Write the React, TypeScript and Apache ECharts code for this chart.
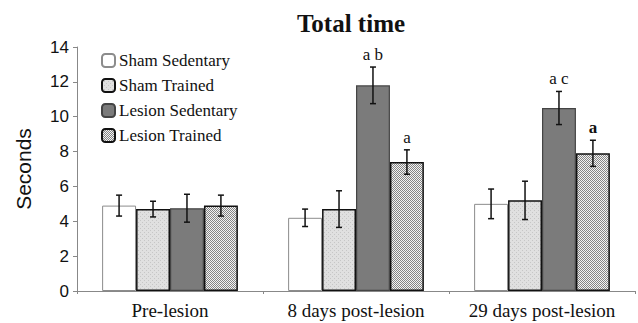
import React, { useEffect, useRef } from "react";
import * as echarts from "echarts";

const categories = ["Pre-lesion", "8 days post-lesion", "29 days post-lesion"];
const seriesNames = ["Sham Sedentary", "Sham Trained", "Lesion Sedentary", "Lesion Trained"];
const shamSedentary = [4.9, 4.2, 5.0];
const shamSedentaryErr = [0.6, 0.5, 0.85];
const shamTrained = [4.7, 4.7, 5.2];
const shamTrainedErr = [0.45, 1.05, 1.1];
const lesionSedentary = [4.75, 11.8, 10.5];
const lesionSedentaryErr = [0.8, 1.05, 0.95];
const lesionTrained = [4.9, 7.4, 7.9];
const lesionTrainedErr = [0.6, 0.7, 0.75];
const lesionSedentarySig = ["", "a b", "a c"];
const lesionTrainedSig = ["", "a", "a"];
const yTicks = [0, 2, 4, 6, 8, 10, 12, 14];

function makePattern(kind: string): string {
  const c = document.createElement("canvas");
  const s = 4;
  c.width = s;
  c.height = s;
  const ctx = c.getContext("2d")!;
  if (kind === "dots") {
    ctx.fillStyle = "#e0e0e0";
    ctx.fillRect(0, 0, s, s);
    ctx.fillStyle = "#c6c6c6";
    ctx.fillRect(0, 0, 1, 1);
    ctx.fillRect(2, 2, 1, 1);
  } else {
    ctx.fillStyle = "#f4f4f4";
    ctx.fillRect(0, 0, s, s);
    ctx.fillStyle = "#858585";
    ctx.fillRect(0, 0, 1, 1);
    ctx.fillRect(2, 0, 1, 1);
    ctx.fillRect(1, 1, 1, 1);
    ctx.fillRect(3, 1, 1, 1);
    ctx.fillRect(0, 2, 1, 1);
    ctx.fillRect(2, 2, 1, 1);
    ctx.fillRect(1, 3, 1, 1);
    ctx.fillRect(3, 3, 1, 1);
  }
  return c.toDataURL();
}

export default function App() {
  const ref = useRef<HTMLDivElement>(null);
  useEffect(() => {
    if (!ref.current) return;
    const chart = echarts.init(ref.current, undefined, { renderer: "svg" });
    const dots = makePattern("dots");
    const checks = makePattern("checks");
    const means = [shamSedentary, shamTrained, lesionSedentary, lesionTrained];
    const errs = [shamSedentaryErr, shamTrainedErr, lesionSedentaryErr, lesionTrainedErr];
    const sigs = [["", "", ""], ["", "", ""], lesionSedentarySig, lesionTrainedSig];
    const styles: any[] = [
      { color: "#ffffff", borderColor: "#8c8c8c", borderWidth: 1 },
      { color: { image: dots, repeat: "repeat" }, borderColor: "#111", borderWidth: 1.5 },
      { color: "#7b7b7b", borderColor: "#444", borderWidth: 1.2 },
      { color: { image: checks, repeat: "repeat" }, borderColor: "#111", borderWidth: 1.5 },
    ];
    const groupFrac = 0.73;
    const errData: any[] = [];
    for (let s = 0; s < 4; s++) {
      for (let c = 0; c < 3; c++) {
        errData.push([c, s, means[s][c] - errs[s][c], means[s][c] + errs[s][c], sigs[s][c]]);
      }
    }
    const serif = "Liberation Serif";
    const sans = "Liberation Sans";
    chart.setOption({
      animation: false,
      title: {
        text: "Total time",
        left: 346,
        top: 6,
        textAlign: "center",
        textStyle: { fontFamily: serif, fontWeight: "bold", fontSize: 25, color: "#111" },
      },
      legend: {
        orient: "vertical",
        left: 96,
        top: 47,
        itemWidth: 13,
        itemHeight: 13,
        itemGap: 8,
        data: seriesNames,
        textStyle: { fontFamily: serif, fontSize: 17, color: "#111", padding: [0, 0, 0, -1] },
      },
      grid: { left: 77, right: 3, top: 47, bottom: 32 },
      xAxis: {
        type: "category",
        data: categories,
        axisLine: { lineStyle: { color: "#888", width: 1 } },
        axisTick: { show: true, length: 3, lineStyle: { color: "#888" } },
        axisLabel: { fontFamily: serif, fontSize: 19, color: "#111", margin: 10, interval: 0, hideOverlap: false },
      },
      yAxis: {
        type: "value",
        min: 0,
        max: 14,
        interval: 2,
        name: "Seconds",
        nameLocation: "middle",
        nameGap: 43,
        nameRotate: 90,
        nameTextStyle: { fontFamily: sans, fontSize: 21, color: "#111" },
        splitLine: { show: false },
        axisLine: { show: true, lineStyle: { color: "#888", width: 1 } },
        axisTick: { show: true, length: 4, lineStyle: { color: "#888" } },
        axisLabel: {
          fontFamily: sans,
          fontSize: 17,
          color: "#111",
          margin: 8,
          formatter: (v: number) => (yTicks.includes(v) ? String(v) : ""),
        },
      },
      series: [
        ...seriesNames.map((name, i) => ({
          name,
          type: "bar",
          data: means[i],
          barGap: "0%",
          barCategoryGap: "27%",
          itemStyle: styles[i],
        })),
        {
          type: "custom",
          data: errData,
          z: 10,
          renderItem: (params: any, api: any) => {
            const c = api.value(0);
            const s = api.value(1);
            const lo = api.value(2);
            const hi = api.value(3);
            const label = errData[params.dataIndex][4];
            const band = api.size([1, 0])[0];
            const bw = (band * groupFrac) / 4;
            const center = api.coord([c, 0])[0];
            const x = center + (s - 1.5) * bw;
            const yLo = api.coord([c, lo])[1];
            const yHi = api.coord([c, hi])[1];
            const cap = 3;
            const ls = { stroke: "#111", lineWidth: 1.5 };
            const children: any[] = [
              { type: "line", shape: { x1: x, y1: yLo, x2: x, y2: yHi }, style: ls },
              { type: "line", shape: { x1: x - cap, y1: yLo, x2: x + cap, y2: yLo }, style: ls },
              { type: "line", shape: { x1: x - cap, y1: yHi, x2: x + cap, y2: yHi }, style: ls },
            ];
            if (label) {
              children.push({
                type: "text",
                style: {
                  x,
                  y: yHi - 4,
                  text: label,
                  textAlign: "center",
                  textVerticalAlign: "bottom",
                  font: (c === 2 && s === 3 ? "bold " : "") + "17px " + serif,
                  fill: "#111",
                },
              });
            }
            return { type: "group", children };
          },
        },
      ],
    });
    return () => chart.dispose();
  }, []);
  return <div ref={ref} style={{ width: 638, height: 323, position: "absolute", left: 0, top: 0 }} />;
}
